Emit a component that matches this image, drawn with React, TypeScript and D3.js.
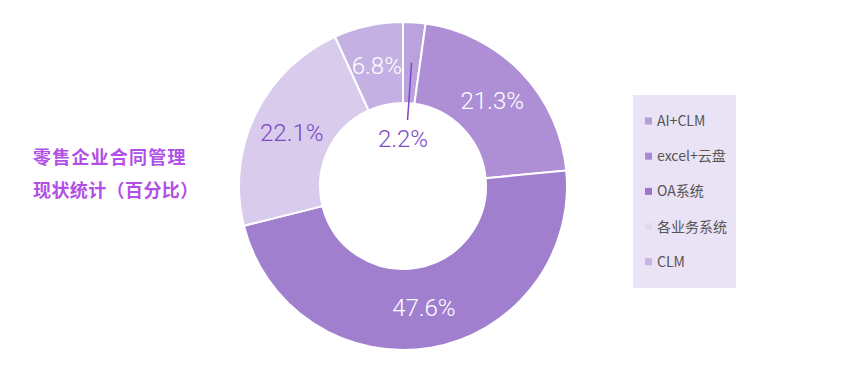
import { useEffect, useRef } from 'react';
import * as d3 from 'd3';

const categories = ['AI+CLM', 'excel+云盘', 'OA系统', '各业务系统', 'CLM'];
const values = [2.2, 21.3, 47.6, 22.1, 6.8];
const sliceColors = ['#b9a2dd', '#ae8fd5', '#a07fcf', '#d9cbec', '#c4b0e2'];
const swatchColors = ['#b59cda', '#a98ad3', '#9b77cc', '#e2d8f1', '#c7b4e4'];
const labelColors = ['#7b48c4', '#ffffff', '#ffffff', '#7b48c4', '#ffffff'];
const titleLines = ['零售企业合同管理', '现状统计（百分比）'];

const W = 866;
const H = 368;

const App: React.FC = () => {
  const ref = useRef<SVGSVGElement>(null);

  useEffect(() => {
    const svg = d3.select(ref.current);
    svg.selectAll('*').remove();

    const cx = 403;
    const cy = 186;
    const outerR = 164;
    const innerR = 83;

    const data = categories.map((c, i) => ({ label: c, value: values[i], i }));

    const pie = d3.pie<any>().value(d => d.value).sort(null);
    const arc = d3.arc<any>().innerRadius(innerR).outerRadius(outerR);
    const arcs = pie(data);

    const g = svg.append('g').attr('transform', `translate(${cx},${cy})`);

    g.selectAll('path')
      .data(arcs)
      .enter()
      .append('path')
      .attr('d', arc)
      .attr('fill', d => sliceColors[d.data.i])
      .attr('stroke', '#fff')
      .attr('stroke-width', 2);

    const labelFont = 'Roboto, "Noto Sans", sans-serif';

    arcs.forEach(d => {
      const txt = `${d.data.value}%`;
      if (d.data.value < 5) {
        // small slice: leader line into the hole
        const mid = (d.startAngle + d.endAngle) / 2;
        const r1 = (innerR + outerR) / 2;
        const r2 = 66;
        g.append('line')
          .attr('x1', Math.sin(mid) * r1)
          .attr('y1', -Math.cos(mid) * r1)
          .attr('x2', Math.sin(mid) * r2)
          .attr('y2', -Math.cos(mid) * r2)
          .attr('stroke', labelColors[d.data.i])
          .attr('stroke-width', 1.5);
        g.append('text')
          .attr('x', 0)
          .attr('y', -Math.cos(mid) * 48)
          .attr('dy', '0.35em')
          .attr('text-anchor', 'middle')
          .style('font-family', labelFont)
          .style('font-weight', 300)
          .style('font-size', '24px')
          .attr('fill', labelColors[d.data.i])
          .text(txt);
      } else {
        const [x, y] = arc.centroid(d);
        g.append('text')
          .attr('x', x)
          .attr('y', y)
          .attr('dy', '0.35em')
          .attr('text-anchor', 'middle')
          .style('font-family', labelFont)
          .style('font-weight', 300)
          .style('font-size', '24px')
          .attr('fill', labelColors[d.data.i])
          .text(txt);
      }
    });

    // title
    svg.selectAll('text.title')
      .data(titleLines)
      .enter()
      .append('text')
      .attr('class', 'title')
      .attr('x', 33)
      .attr('y', (_, i) => 164 + i * 33)
      .style('font-family', '"Noto Sans CJK SC", sans-serif')
      .style('font-weight', 700)
      .style('font-size', '18px')
      .style('letter-spacing', (_, i) => (i === 0 ? '1.2px' : '0.4px'))
      .attr('fill', '#b24fe6')
      .text(d => d);

    // legend
    const lg = svg.append('g');
    lg.append('rect')
      .attr('x', 633)
      .attr('y', 95)
      .attr('width', 103)
      .attr('height', 193)
      .attr('fill', '#eae2f5');

    const items = lg.selectAll('g.item')
      .data(categories)
      .enter()
      .append('g')
      .attr('class', 'item')
      .attr('transform', (_, i) => `translate(645, ${121 + i * 35.2})`);

    items.append('rect')
      .attr('x', 0)
      .attr('y', -3.5)
      .attr('width', 7)
      .attr('height', 7)
      .attr('fill', (_, i) => swatchColors[i]);

    items.append('text')
      .attr('x', 12)
      .attr('y', 0)
      .attr('dy', '0.36em')
      .style('font-family', '"Noto Sans CJK SC", "Noto Sans", sans-serif')
      .style('font-size', '14px')
      .attr('fill', '#555')
      .text(d => d);
  }, []);

  return (
    <svg
      ref={ref}
      width={W}
      height={H}
      style={{ position: 'absolute', left: 0, top: 0, background: '#fff' }}
    />
  );
};

export default App;
